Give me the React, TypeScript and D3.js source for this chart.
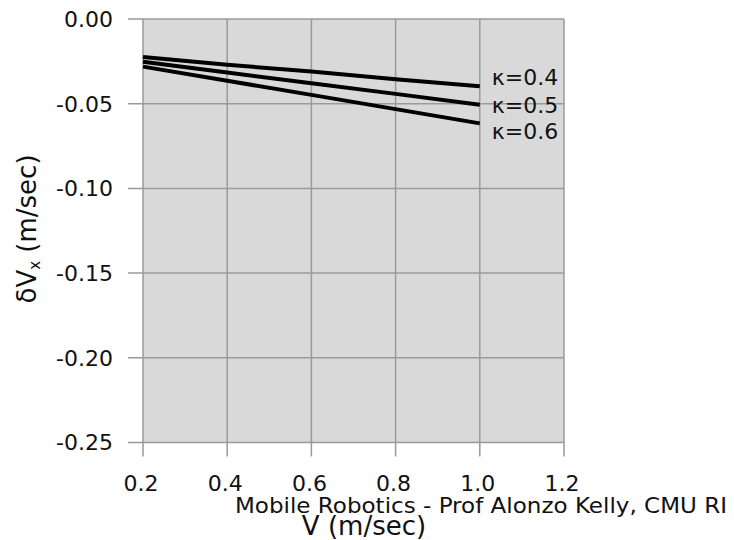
import React, { useEffect, useRef } from 'react'
import * as d3 from 'd3'

const speeds = [0.2, 0.4, 0.6, 0.8, 1.0]
const kappas = ['0.4', '0.5', '0.6']
const errK04 = [-0.0225, -0.027, -0.031, -0.0355, -0.0397]
const errK05 = [-0.0253, -0.0316, -0.0379, -0.0442, -0.0506]
const errK06 = [-0.0281, -0.0365, -0.0448, -0.0532, -0.0616]
const xTicks = [0.2, 0.4, 0.6, 0.8, 1.0, 1.2]
const yTicks = [0, -0.05, -0.1, -0.15, -0.2, -0.25]

const FONT = '"DejaVu Sans", sans-serif'

function App() {
  const ref = useRef<SVGSVGElement>(null)

  useEffect(() => {
    drawChart(ref.current!)
  }, [])

  return (
    <div style={{ position: 'absolute', left: 0, top: 0 }}>
      <svg ref={ref} width={734} height={540}></svg>
    </div>
  )
}

function drawChart(node: SVGSVGElement) {
  const svg = d3.select(node)
  svg.selectAll('*').remove()

  const x = d3.scaleLinear().domain([0.2, 1.2]).range([143, 564])
  const y = d3.scaleLinear().domain([0, -0.25]).range([19, 442.5])

  // plot background
  svg.append('rect')
    .attr('x', x(0.2))
    .attr('y', y(0))
    .attr('width', x(1.2) - x(0.2))
    .attr('height', y(-0.25) - y(0))
    .attr('fill', '#d9d9d9')

  const grid = '#9a9a9a'

  // gridlines
  svg.append('g')
    .selectAll('line')
    .data(xTicks)
    .enter()
    .append('line')
    .attr('x1', d => x(d))
    .attr('x2', d => x(d))
    .attr('y1', y(0))
    .attr('y2', y(-0.25) + 14)
    .attr('stroke', grid)
    .attr('stroke-width', 1.5)

  svg.append('g')
    .selectAll('line')
    .data(yTicks)
    .enter()
    .append('line')
    .attr('x1', x(0.2) - 15)
    .attr('x2', x(1.2))
    .attr('y1', d => y(d))
    .attr('y2', d => y(d))
    .attr('stroke', grid)
    .attr('stroke-width', 1.5)

  // tick labels
  svg.append('g')
    .selectAll('text')
    .data(yTicks)
    .enter()
    .append('text')
    .attr('x', 113)
    .attr('y', d => y(d))
    .attr('dy', '0.36em')
    .attr('text-anchor', 'end')
    .attr('font-family', FONT)
    .attr('font-size', 22)
    .attr('fill', '#111')
    .text(d => d3.format('.2f')(d).replace('−', '-'))

  svg.append('g')
    .selectAll('text')
    .data(xTicks)
    .enter()
    .append('text')
    .attr('x', d => x(d) - 2)
    .attr('y', 491)
    .attr('text-anchor', 'middle')
    .attr('font-family', FONT)
    .attr('font-size', 22)
    .attr('fill', '#111')
    .text(d => d3.format('.1f')(d))

  // series
  const series = [errK04, errK05, errK06]
  const line = d3.line<number>()
    .x((d, i) => x(speeds[i]))
    .y(d => y(d))

  svg.append('g')
    .selectAll('path')
    .data(series)
    .enter()
    .append('path')
    .attr('d', d => line(d))
    .attr('fill', 'none')
    .attr('stroke', '#000')
    .attr('stroke-width', 4)

  const labelShift = [-9, 0, 8]
  svg.append('g')
    .selectAll('text')
    .data(series)
    .enter()
    .append('text')
    .attr('x', x(1.0) + 12)
    .attr('y', (d, i) => y(d[d.length - 1]) + labelShift[i])
    .attr('dy', '0.36em')
    .attr('font-family', FONT)
    .attr('font-size', 22)
    .attr('fill', '#111')
    .text((d, i) => 'κ=' + kappas[i])

  // axis titles
  const yt = svg.append('text')
    .attr('transform', 'translate(36,229) rotate(-90)')
    .attr('text-anchor', 'middle')
    .attr('font-family', FONT)
    .attr('font-size', 26)
    .attr('fill', '#111')
  yt.append('tspan').text('δV')
  yt.append('tspan').attr('font-size', 15).attr('dy', 4).text('x')
  yt.append('tspan').attr('dy', -4).text(' (m/sec)')

  svg.append('text')
    .attr('x', 364)
    .attr('y', 535)
    .attr('text-anchor', 'middle')
    .attr('font-family', FONT)
    .attr('font-size', 26)
    .attr('fill', '#111')
    .text('V (m/sec)')

  svg.append('text')
    .attr('x', 235)
    .attr('y', 513)
    .attr('font-family', FONT)
    .attr('font-size', 22)
    .attr('fill', '#111')
    .attr('textLength', 492)
    .attr('lengthAdjust', 'spacingAndGlyphs')
    .text('Mobile Robotics - Prof Alonzo Kelly, CMU RI')
}

export default App
